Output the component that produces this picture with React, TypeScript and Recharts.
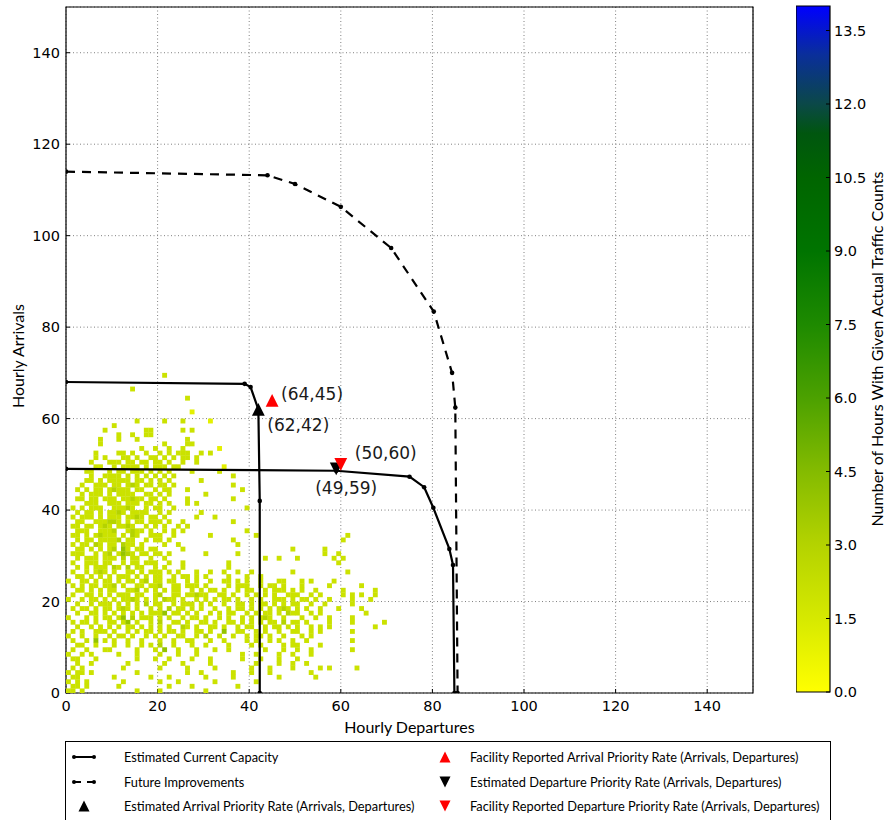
import React from 'react';
import { ScatterChart, Scatter, XAxis, YAxis, CartesianGrid, ReferenceArea } from 'recharts';

// ---- axis ticks ----
const AXIS_TICKS = [0, 20, 40, 60, 80, 100, 120, 140];
const COLORBAR_TICKS = [0, 1.5, 3, 4.5, 6, 7.5, 9, 10.5, 12, 13.5];
const COLORBAR_MAX = 14;

// ---- capacity curves (departures, arrivals) ----
const arrivalPriorityCurve = [
  { dep: 0, arr: 68 },
  { dep: 39, arr: 67.6 },
  { dep: 40.3, arr: 66.9 },
  { dep: 42, arr: 62 },
  { dep: 42.3, arr: 42 },
  { dep: 42.3, arr: 0 },
];
const departurePriorityCurve = [
  { dep: 0, arr: 49 },
  { dep: 59, arr: 48.6 },
  { dep: 75, arr: 47.3 },
  { dep: 78.2, arr: 45 },
  { dep: 80.2, arr: 40.5 },
  { dep: 83.7, arr: 31.5 },
  { dep: 84.5, arr: 28 },
  { dep: 84.8, arr: 0 },
];
const futureCurve = [
  { dep: 0, arr: 114 },
  { dep: 44, arr: 113.2 },
  { dep: 50, arr: 111.3 },
  { dep: 60, arr: 106.3 },
  { dep: 71, arr: 97.3 },
  { dep: 80.3, arr: 83.4 },
  { dep: 84.3, arr: 70 },
  { dep: 85, arr: 62.4 },
  { dep: 85.5, arr: 0 },
];

// ---- priority rates ----
const estArrivalPriority = [{ dep: 42, arr: 62 }];
const reportedArrivalPriority = [{ dep: 45, arr: 64 }];
const estDeparturePriority = [{ dep: 59, arr: 49 }];
const reportedDeparturePriority = [{ dep: 60, arr: 50 }];

// ---- observed hour counts, one string per arrival count (top row = 69 arrivals),
// one character per departure count starting at 0; '.' means no hours ----
const TOP_ARRIVAL = 69;
const countRows: string[] = [
  '.....................2',
  '',
  '',
  '..............2',
  '',
  '..........................2',
  '',
  '',
  '...........................1',
  '',
  '...............2.....2...2.....1',
  '..........2',
  '........2........22......2.2',
  '...........2..2..22',
  '.......2...2...2..........2',
  '.......2.............2....22',
  '................2..2..2..2.......1',
  '......2....22.2..2..2.2.222..2.2',
  '......2.2...22.2..22.2.2.22.2',
  '.....2...222.22.22.22.2..2..2',
  '......22..2.2222.2.222.22.........1',
  '....22...2.22.222.2.2.2....2.....2',
  '.....2..2222.2.2.2.2.2.2............2',
  '....22.2.22222.22.2.2.2......2',
  '...2..222.22.232.22.22.2............2',
  '..2.2.22.23222.22..2.22...2...........2',
  '...2.222.2.2222..22.2.2.......2',
  '..22.22.222.22322.22.2....2.........2',
  '....222..222.222.22.2.2...2.2.',
  '.2.2.222..22232..2.22..2...............2',
  '..2.22.2.2232.2222..2.2......2',
  '.2.222.2.222.2232.22.2......2...2',
  '..22..222332.2.22.222.2..2..........2',
  '.22.22.232.2232..2.2.2..2.2...',
  '..222..2223..2322.2..2.2.2.............2',
  '.22.2.23222.2.32..222..2.......2.........2...................2',
  '..2.22.22223.22..2.22.2.............2.......................2',
  '.2.22.32.22.322.2....2..2............2....',
  '..22.2.2.23.42.22.22.....2.......................2......2',
  '.222..2.23.2432.22.22.2.......2......2..................2..2',
  '..2.222.222.3.22..2..2.....................2..2...2.......2.2',
  '.2..222.22..2.22.222..2..2.........2.......................2',
  '..2.2.222.32.3.22..2.2...2.........2........................',
  '.2..2.232.2..22.2.222.2.2...2..2..2..2..2........2...........2',
  '..22.2.2.2.222.2.2.22..2.22.2.2....2...2..2..........',
  '2..22.2.22.2.22.23.22.22..2.2..2..22.2.2..2...22...2.2....2.',
  '.2.2.22.223.2..22.223..22.222.2....2.222..2.22.2...2.....2......2',
  '..22.2.2.22..223.2.2.2.22..2.2.22.2..2.22..2.222.2.2..2.....2......2',
  '.2..22.2.2.222.22..23..22.22322..22.2..2.2.2.2..222..2.2....2.2.2..2',
  '2..2.22.2.2.2232.2.2.322.2..2.2.2.22.2..2.2..222.2.22.2..2....2...2',
  '..2..2.222.2.2.2.3.22..2.222.2.2..2..22.2.22.2.2.22..2..2.....2',
  '.2.22.2.22.232.2..2.2.3.22.2.2..2..2.22.2.2.2.232.2.2..2...2....2',
  '..2..22.2.2.2.2.2.2224.22.2.2..2.2.22..2.2.22.2.322..2.2.........2',
  '2...2.2.22.24.3.222.2.2..2.22.2..2.2..2.2.232..2...2..2..2....2',
  '.2.22.2..22.24.2..2.3..22.2..22.2..22.2.2.2.22.3.22.2....2....2......2',
  '..2..2.2.2.2.22.2.2.2.2..32.2..22.2..2.22..2.22.2.2..2.2.2.........2',
  '.2.2..222.2..2.2.22.2.22.2..22.2..4..22..2.2..2..22..2.2......2',
  '2..2..2..2.22.2..2.2.2..22..2.3..2..2..2.22.2..2...2.2......',
  '.2..2.4.2.2..2..2...2..2..22...2..2....2.2..2.2..2..2.........2',
  '..22..2...2..2..2.2.3..2...2..2....2....2.2....2.22....2....',
  '.2..2...22.....2...2.4..2...2...2..2.......2...2..2..2........2',
  '2..2.2.....2...2....2...2...2.........2..2....2..2...2...',
  '.22...2........2...2..2....2...2......2...2...2...2......',
  '..2..2.......2.......2...2.....2.........2....2..2..2....',
  '.2.2........2.......2.....2.....2.......2...2....2.....2.2.....2.',
  '2.22.2.........2..........2..2......2...2...2........2........',
  '.22.......2.......2...2.......2.....2.........2.......2',
  '2.2.2.......2.......2...2.......2........2',
  '.22.2......2..........2....2.........2',
  '22.2...........2....2.........2',
];

// ---- colour scale: yellow -> green -> dark green -> blue ----
const COLOR_STOPS: [number, string][] = [
  [0, '#ffff00'],
  [1.5, '#d6e900'],
  [3, '#b4d300'],
  [4.5, '#84bb00'],
  [6, '#4ca100'],
  [7.5, '#1e8a00'],
  [9, '#007400'],
  [10.5, '#006500'],
  [11.4, '#00560f'],
  [12, '#0b4848'],
  [13, '#0a2f9a'],
  [14, '#0000ff'],
];

const hex = (c: string) => [1, 3, 5].map((i) => parseInt(c.slice(i, i + 2), 16));
const colorAt = (v: number) => {
  for (let i = 1; i < COLOR_STOPS.length; i++) {
    const [v1, c1] = COLOR_STOPS[i];
    const [v0, c0] = COLOR_STOPS[i - 1];
    if (v <= v1) {
      const t = (v - v0) / (v1 - v0);
      const a = hex(c0);
      const b = hex(c1);
      const m = a.map((x, k) => Math.round(x + (b[k] - x) * t));
      return `rgb(${m[0]},${m[1]},${m[2]})`;
    }
  }
  return COLOR_STOPS[COLOR_STOPS.length - 1][1];
};

// ---- layout ----
const W = 886;
const H = 820;
const PLOT_LEFT = 66;
const PLOT_TOP = 7;
const PLOT_RIGHT = 753;
const PLOT_BOTTOM = 693;
const AXIS_MAX = 150;
const CELL_W = (PLOT_RIGHT - PLOT_LEFT) / AXIS_MAX;
const CELL_H = (PLOT_BOTTOM - PLOT_TOP) / AXIS_MAX;

const TICK_FONT = { fontFamily: 'DejaVu Sans', fontSize: 14.5, fill: '#000' };
const LABEL_FONT = 'Lato';

const toXY = (pts: { dep: number; arr: number }[]) => pts.map((p) => ({ x: p.dep, y: p.arr, dep: p.dep, arr: p.arr }));

const cells: { x: number; y: number; count: number }[] = [];
countRows.forEach((row, i) => {
  const arrivals = TOP_ARRIVAL - i;
  for (let j = 0; j < row.length; j++) {
    const ch = row[j];
    if (ch !== '.') cells.push({ x: j + 0.5, y: arrivals + 0.5, count: Number(ch) });
  }
});

// colour bar samples: one per labelled tick, used to build its axis
const colorbarSamples = COLORBAR_TICKS.map((v) => ({ x: 0.5, y: v }));

const CellShape = (props: any) => {
  const { cx, cy, payload } = props;
  return (
    <rect
      x={cx - CELL_W / 2}
      y={cy - CELL_H / 2}
      width={CELL_W + 0.3}
      height={CELL_H + 0.3}
      fill={colorAt(payload.count)}
    />
  );
};

const Vertex = (props: any) => <circle cx={props.cx} cy={props.cy} r={2.3} fill="#000" />;
const Hidden = () => <g />;

const makeMarker = (color: string, up: boolean, dx: number, dy: number) => (props: any) => {
  const { cx, cy, payload } = props;
  const s = 6.4;
  const d = up
    ? `M${cx - s},${cy + s} L${cx + s},${cy + s} L${cx},${cy - s} Z`
    : `M${cx - s},${cy - s} L${cx + s},${cy - s} L${cx},${cy + s} Z`;
  return (
    <g>
      <path d={d} fill={color} />
      <text x={cx + dx} y={cy + dy} fontFamily="DejaVu Sans" fontSize={17} fill="#1a1a1a">
        {`(${payload.arr},${payload.dep})`}
      </text>
    </g>
  );
};

const legendItems = [
  { text: 'Estimated Current Capacity', kind: 'solid', col: 0, row: 0 },
  { text: 'Future Improvements', kind: 'dashed', col: 0, row: 1 },
  { text: 'Estimated Arrival Priority Rate (Arrivals, Departures)', kind: 'upBlack', col: 0, row: 2 },
  { text: 'Facility Reported Arrival Priority Rate (Arrivals, Departures)', kind: 'upRed', col: 1, row: 0 },
  { text: 'Estimated Departure Priority Rate (Arrivals, Departures)', kind: 'downBlack', col: 1, row: 1 },
  { text: 'Facility Reported Departure Priority Rate (Arrivals, Departures)', kind: 'downRed', col: 1, row: 2 },
];

const LegendIcon = ({ kind, x, y }: { kind: string; x: number; y: number }) => {
  if (kind === 'solid' || kind === 'dashed') {
    return (
      <g>
        <line x1={x - 10} y1={y} x2={x + 10} y2={y} stroke="#000" strokeWidth={2}
          strokeDasharray={kind === 'dashed' ? '7 6' : undefined} />
        <circle cx={x - 10} cy={y} r={2} fill="#000" />
        <circle cx={x + 10} cy={y} r={2} fill="#000" />
      </g>
    );
  }
  const up = kind.startsWith('up');
  const color = kind.endsWith('Red') ? '#ff0000' : '#000';
  const s = 5.5;
  const d = up
    ? `M${x - s},${y + s} L${x + s},${y + s} L${x},${y - s} Z`
    : `M${x - s},${y - s} L${x + s},${y - s} L${x},${y + s} Z`;
  return <path d={d} fill={color} />;
};

const LegendBox = () => {
  const colIcon = [19, 380];
  const colText = [59, 405];
  const rowY = [16, 41, 65];
  return (
    <svg width={766} height={82} style={{ position: 'absolute', left: 65, top: 741 }}>
      <rect x={0.5} y={0.5} width={765} height={90} fill="#fff" stroke="#000" strokeWidth={1} />
      {legendItems.map((it) => (
        <g key={it.text}>
          <LegendIcon kind={it.kind} x={colIcon[it.col]} y={rowY[it.row]} />
          <text x={colText[it.col]} y={rowY[it.row] + 4.5} fontFamily={LABEL_FONT} fontSize={12.8} fill="#000">
            {it.text}
          </text>
        </g>
      ))}
    </svg>
  );
};

export default function App() {
  return (
    <div style={{ position: 'absolute', left: 0, top: 0, width: W, height: H, background: '#fff', overflow: 'hidden' }}>
      <svg width={0} height={0} style={{ position: 'absolute' }}>
        <defs>
          <linearGradient id="hoursGradient" x1="0" y1="1" x2="0" y2="0">
            {COLOR_STOPS.map(([v, c]) => (
              <stop key={v} offset={v / COLORBAR_MAX} stopColor={c} />
            ))}
          </linearGradient>
        </defs>
      </svg>

      <div style={{ position: 'absolute', left: 0, top: 0 }}>
        <ScatterChart
          width={W}
          height={H}
          margin={{ top: PLOT_TOP, right: W - PLOT_RIGHT, bottom: H - PLOT_BOTTOM - 30, left: PLOT_LEFT - 50 }}
        >
          <CartesianGrid stroke="#808080" strokeDasharray="1 2.5" strokeWidth={1} />
          <XAxis
            type="number"
            dataKey="x"
            domain={[0, AXIS_MAX]}
            ticks={AXIS_TICKS}
            allowDataOverflow
            height={30}
            axisLine={false}
            tickSize={-4}
            tickMargin={12}
            tickLine={{ stroke: '#000' }}
            tick={TICK_FONT}
            label={(p: any) => (
              <text x={p.viewBox.x + p.viewBox.width / 2} y={p.viewBox.y + 40} textAnchor="middle"
                fontFamily={LABEL_FONT} fontSize={16} fill="#000">Hourly Departures</text>
            )}
          />
          <YAxis
            type="number"
            dataKey="y"
            domain={[0, AXIS_MAX]}
            ticks={AXIS_TICKS}
            allowDataOverflow
            width={50}
            axisLine={false}
            tickSize={-4}
            tickMargin={10}
            tickLine={{ stroke: '#000' }}
            tick={TICK_FONT}
            label={(p: any) => {
              const cx = p.viewBox.x + 7.5;
              const cy = p.viewBox.y + p.viewBox.height / 2 + 6;
              return (
                <text x={cx} y={cy} transform={`rotate(-90 ${cx} ${cy})`} textAnchor="middle"
                  fontFamily={LABEL_FONT} fontSize={16} fill="#000">Hourly Arrivals</text>
              );
            }}
          />
          <Scatter data={cells} shape={<CellShape />} isAnimationActive={false} />
          <ReferenceArea x1={0} x2={AXIS_MAX} y1={0} y2={AXIS_MAX} fill="none" fillOpacity={0}
            stroke="#000" strokeWidth={1.2} ifOverflow="visible" />
          <Scatter data={toXY(futureCurve)} line={{ stroke: '#000', strokeWidth: 2.2, strokeDasharray: '9 7' }}
            lineType="joint" shape={<Vertex />} isAnimationActive={false} />
          <Scatter data={toXY(arrivalPriorityCurve)} line={{ stroke: '#000', strokeWidth: 2.2 }}
            lineType="joint" shape={<Vertex />} isAnimationActive={false} />
          <Scatter data={toXY(departurePriorityCurve)} line={{ stroke: '#000', strokeWidth: 2.2 }}
            lineType="joint" shape={<Vertex />} isAnimationActive={false} />
          <Scatter data={toXY(estArrivalPriority)} shape={makeMarker('#000', true, 9, 22)} isAnimationActive={false} />
          <Scatter data={toXY(reportedArrivalPriority)} shape={makeMarker('#ff0000', true, 9, -0.5)} isAnimationActive={false} />
          <Scatter data={toXY(estDeparturePriority)} shape={makeMarker('#000', false, -21, 25)} isAnimationActive={false} />
          <Scatter data={toXY(reportedDeparturePriority)} shape={makeMarker('#ff0000', false, 14, -5)} isAnimationActive={false} />
        </ScatterChart>
      </div>

      <div style={{ position: 'absolute', left: 796, top: 0 }}>
        <ScatterChart width={90} height={H} margin={{ top: 6, right: 6, bottom: H - 692, left: 0 }}>
          <XAxis type="number" dataKey="x" domain={[0, 1]} hide />
          <YAxis
            type="number"
            dataKey="y"
            orientation="right"
            domain={[0, COLORBAR_MAX]}
            ticks={COLORBAR_TICKS}
            width={50}
            axisLine={false}
            tickSize={-4}
            tickMargin={8}
            tickLine={{ stroke: '#000' }}
            tick={TICK_FONT}
            tickFormatter={(v: number) => v.toFixed(1)}
            label={(p: any) => {
              const cx = p.viewBox.x + 53;
              const cy = p.viewBox.y + p.viewBox.height / 2;
              return (
                <text x={cx} y={cy} transform={`rotate(-90 ${cx} ${cy})`} textAnchor="middle"
                  fontFamily={LABEL_FONT} fontSize={16} fill="#000">Number of Hours With Given Actual Traffic Counts</text>
              );
            }}
          />
          <ReferenceArea x1={0} x2={1} y1={0} y2={COLORBAR_MAX} fill="url(#hoursGradient)" fillOpacity={1}
            stroke="#000" strokeWidth={1.2} ifOverflow="visible" />
          <Scatter data={colorbarSamples} shape={<Hidden />} isAnimationActive={false} />
        </ScatterChart>
      </div>

      <LegendBox />
    </div>
  );
}
